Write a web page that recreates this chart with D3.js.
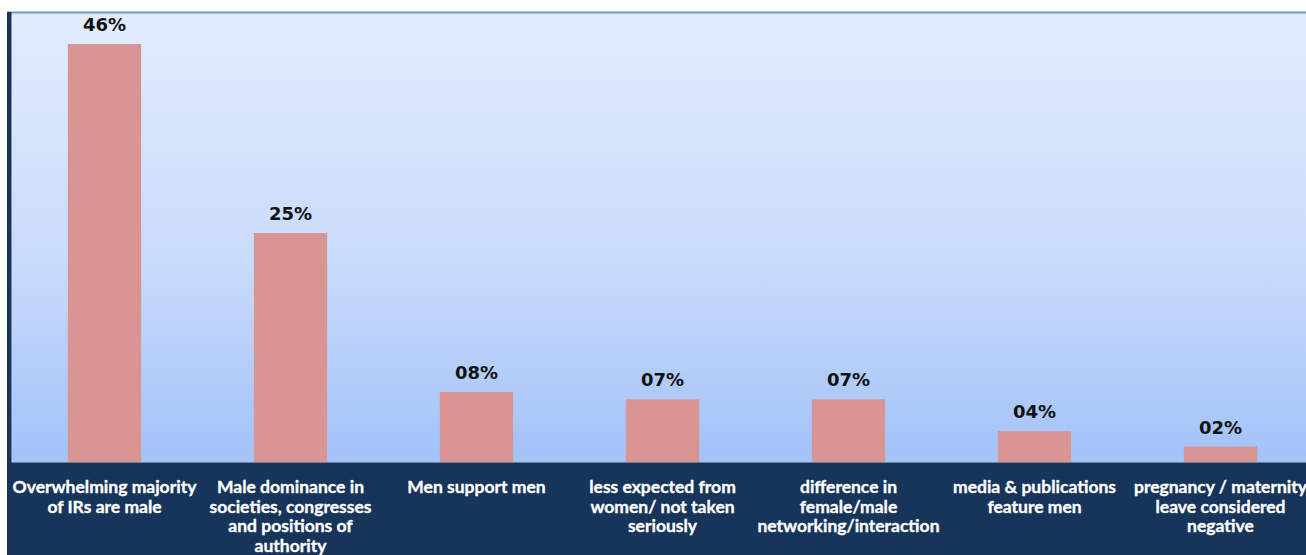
<!DOCTYPE html>
<html>
<head>
<meta charset="utf-8">
<script src="https://cdn.jsdelivr.net/npm/d3@7"></script>
<style>
  html, body { margin: 0; padding: 0; background: #ffffff; overflow: hidden; }
  svg { display: block; }
</style>
</head>
<body>
<svg id="chart" width="1306" height="555"></svg>
<script>
// ---- data ----
const categories = [
  "Overwhelming majority\nof IRs are male",
  "Male dominance in\nsocieties, congresses\nand positions of\nauthority",
  "Men support men",
  "less expected from\nwomen/ not taken\nseriously",
  "difference in\nfemale/male\nnetworking/interaction",
  "media & publications\nfeature men",
  "pregnancy / maternity\nleave considered\nnegative"
];
const values = [46, 25.2, 7.7, 6.9, 6.9, 3.4, 1.7];
const valueLabels = ["46%", "25%", "08%", "07%", "07%", "04%", "02%"];

// ---- layout ----
const W = 1306, H = 555;
const frameLeft = 7, plotLeft = 11.5, plotTop = 13, baseline = 462;
const svg = d3.select("#chart");

const defs = svg.append("defs");
const grad = defs.append("linearGradient")
  .attr("id", "bg").attr("x1", 0).attr("y1", 0).attr("x2", 0).attr("y2", 1);
grad.append("stop").attr("offset", "0%").attr("stop-color", "#e2ecfd");
grad.append("stop").attr("offset", "55%").attr("stop-color", "#c9dbfb");
grad.append("stop").attr("offset", "100%").attr("stop-color", "#a2c2f8");

// plot background
svg.append("rect")
  .attr("x", plotLeft).attr("y", plotTop)
  .attr("width", W - plotLeft).attr("height", baseline - plotTop)
  .attr("fill", "url(#bg)");

// top border line
svg.append("line")
  .attr("x1", frameLeft).attr("x2", W)
  .attr("y1", 12.5).attr("y2", 12.5)
  .attr("stroke", "#7299ca").attr("stroke-width", 2);

// bottom navy band
svg.append("rect")
  .attr("x", frameLeft).attr("y", baseline)
  .attr("width", W - frameLeft).attr("height", H - baseline)
  .attr("fill", "#17345a");
svg.append("line")
  .attr("x1", plotLeft).attr("x2", W)
  .attr("y1", baseline + 0.5).attr("y2", baseline + 0.5)
  .attr("stroke", "#6d7f99").attr("stroke-width", 1);

// left navy edge
svg.append("rect")
  .attr("x", frameLeft).attr("y", 12)
  .attr("width", plotLeft - frameLeft).attr("height", H - 12)
  .attr("fill", "#17345a");

// scales
const x = d3.scaleBand()
  .domain(categories)
  .range([plotLeft, plotLeft + 186 * categories.length])
  .paddingInner(0.606)
  .paddingOuter(0.303);
const y = d3.scaleLinear().domain([0, 46]).range([baseline, 44]);

// bars
svg.append("g").selectAll("rect")
  .data(categories)
  .join("rect")
  .attr("x", d => x(d))
  .attr("width", x.bandwidth())
  .attr("y", (d, i) => y(values[i]))
  .attr("height", (d, i) => y(0) - y(values[i]))
  .attr("fill", "#d99594");

// value labels
svg.append("g").selectAll("text")
  .data(categories)
  .join("text")
  .attr("x", d => x(d) + x.bandwidth() / 2)
  .attr("y", (d, i) => y(values[i]) - 13)
  .attr("text-anchor", "middle")
  .attr("font-family", "DejaVu Sans, sans-serif")
  .attr("font-weight", "bold")
  .attr("font-size", 18)
  .attr("fill", "#111111")
  .text((d, i) => valueLabels[i]);

// category labels (axis)
const axis = d3.axisBottom(x).tickSize(0).tickPadding(0);
const gAxis = svg.append("g")
  .attr("transform", `translate(0,${baseline})`)
  .call(axis);
gAxis.select(".domain").remove();
gAxis.selectAll(".tick text").each(function(d) {
  const t = d3.select(this);
  const lines = d.split("\n");
  t.text(null)
    .attr("y", 0)
    .attr("dy", null)
    .attr("font-family", "Lato, sans-serif")
    .attr("font-weight", "bold")
    .attr("font-size", 17.5)
    .attr("fill", "#ffffff")
    .attr("stroke", "#ffffff")
    .attr("stroke-width", 0.35)
    .attr("text-anchor", "middle");
  lines.forEach((ln, k) => {
    t.append("tspan")
      .attr("x", 0)
      .attr("y", 31 + k * 19.5)
      .text(ln);
  });
});
</script>
</body>
</html>
